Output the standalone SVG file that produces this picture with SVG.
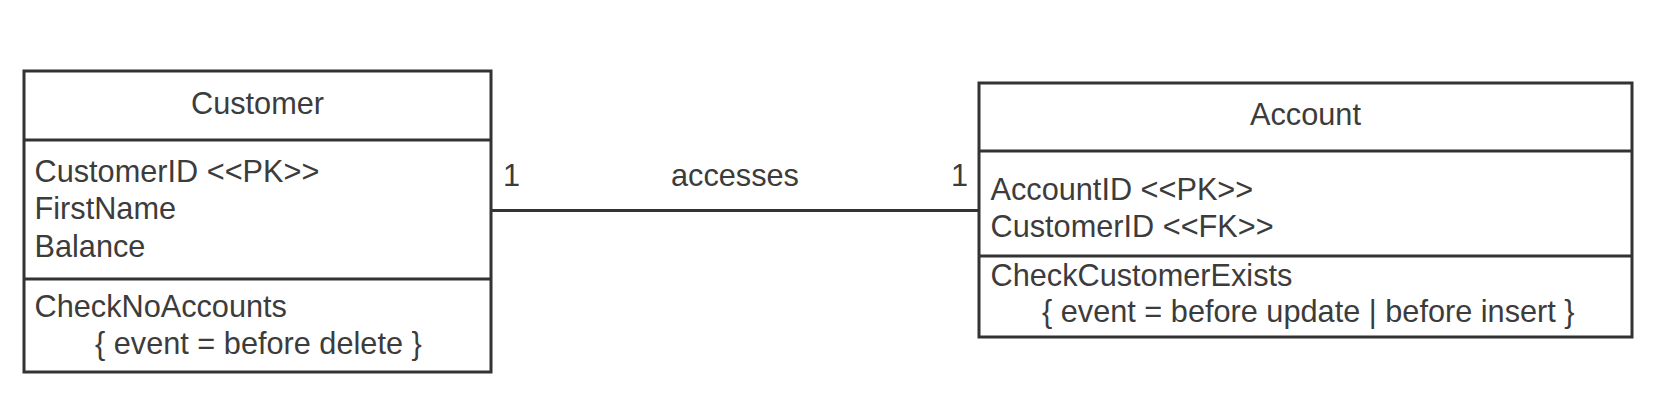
<svg xmlns="http://www.w3.org/2000/svg" width="1670" height="404" viewBox="0 0 1670 404">
<style>
.box{fill:#fff;stroke:#333;stroke-width:3}
.div{stroke:#333;stroke-width:3}
.t{font-family:"Liberation Sans",Arial,sans-serif;font-size:30.7px;fill:#3c3c3c}
.c{text-anchor:middle}
.conn{stroke:#333;stroke-width:3;fill:none}
</style>
<rect width="1670" height="404" fill="#fff"/>
<g id="connectors">
<line class="conn" x1="491" y1="210.5" x2="979" y2="210.5"/>
<text class="t" x="503" y="186">1</text>
<text class="t c" x="735" y="186">accesses</text>
<text class="t" x="951" y="186">1</text>
</g>
<g id="customer">
<rect class="box" x="24" y="71" width="467" height="301"/>
<line class="div" x1="24" y1="140" x2="491" y2="140"/>
<line class="div" x1="24" y1="279" x2="491" y2="279"/>
<text class="t c" x="257.5" y="114">Customer</text>
<text class="t" x="34.5" y="182">CustomerID &lt;&lt;PK&gt;&gt;</text>
<text class="t" x="34.5" y="219">FirstName</text>
<text class="t" x="34.5" y="257">Balance</text>
<text class="t" x="34.5" y="317">CheckNoAccounts</text>
<text class="t" x="95" y="354">{ event = before delete }</text>
</g>
<g id="account">
<rect class="box" x="979" y="83" width="653" height="254"/>
<line class="div" x1="979" y1="151" x2="1632" y2="151"/>
<line class="div" x1="979" y1="256" x2="1632" y2="256"/>
<text class="t c" x="1305.5" y="125">Account</text>
<text class="t" x="990.5" y="200">AccountID &lt;&lt;PK&gt;&gt;</text>
<text class="t" x="990.5" y="237">CustomerID &lt;&lt;FK&gt;&gt;</text>
<text class="t" x="990.5" y="286">CheckCustomerExists</text>
<text class="t" x="1042" y="322">{ event = before update | before insert }</text>
</g>
</svg>
